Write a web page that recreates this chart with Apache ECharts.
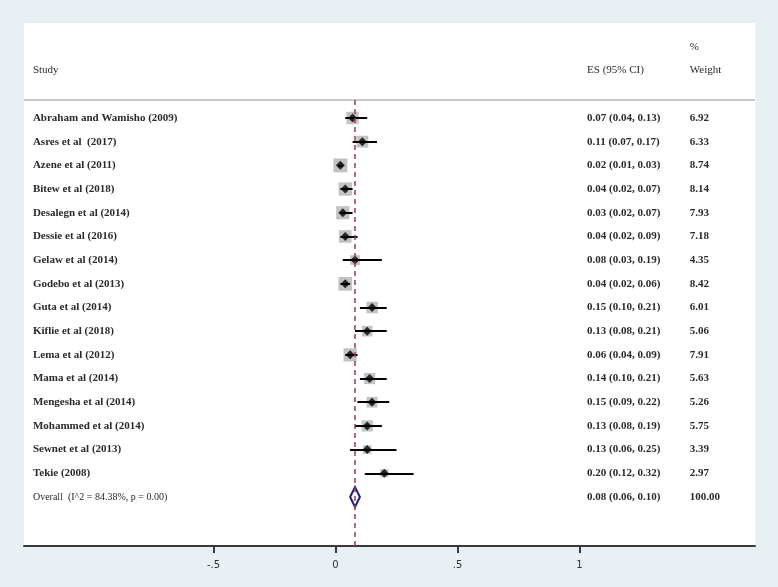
<!DOCTYPE html>
<html>
<head>
<meta charset="utf-8">
<script src="https://cdn.jsdelivr.net/npm/echarts@6/dist/echarts.min.js"></script>
<style>
html,body{margin:0;padding:0;background:#e8f0f3;}
#chart{width:778px;height:587px;}
</style>
</head>
<body>
<div id="chart"></div>
<script>
const studies = [
  "Abraham and Wamisho (2009)", "Asres et al  (2017)", "Azene et al (2011)", "Bitew et al (2018)",
  "Desalegn et al (2014)", "Dessie et al (2016)", "Gelaw et al (2014)", "Godebo et al (2013)",
  "Guta et al (2014)", "Kiflie et al (2018)", "Lema et al (2012)", "Mama et al (2014)",
  "Mengesha et al (2014)", "Mohammed et al (2014)", "Sewnet et al (2013)", "Tekie (2008)"
];
const es      = [0.07, 0.11, 0.02, 0.04, 0.03, 0.04, 0.08, 0.04, 0.15, 0.13, 0.06, 0.14, 0.15, 0.13, 0.13, 0.20];
const ciLow   = [0.04, 0.07, 0.01, 0.02, 0.02, 0.02, 0.03, 0.02, 0.10, 0.08, 0.04, 0.10, 0.09, 0.08, 0.06, 0.12];
const ciHigh  = [0.13, 0.17, 0.03, 0.07, 0.07, 0.09, 0.19, 0.06, 0.21, 0.21, 0.09, 0.21, 0.22, 0.19, 0.25, 0.32];
const weights = [6.92, 6.33, 8.74, 8.14, 7.93, 7.18, 4.35, 8.42, 6.01, 5.06, 7.91, 5.63, 5.26, 5.75, 3.39, 2.97];
const overallLabel = ["Overall  (I^2 = 84.38%, p = 0.00)"];
const overallES = [0.08];
const overallLow = [0.06];
const overallHigh = [0.10];
const overallWeight = [100.00];
const tickValues = [-0.5, 0, 0.5, 1];
const tickLabels = ["-.5", "0", ".5", "1"];
const headers = ["Study", "ES (95% CI)", "Weight", "%"];

// layout constants (axis units)
const X_MIN = -1.2766, X_MAX = 1.7193;
const Y_MIN = -4.01, Y_MAX = 18.07;
const COL_STUDY = -1.240, COL_ES = 1.031, COL_W = 1.452;
const HEADER_ROW = -2.03, PCT_ROW = -3.01, HEADER_LINE = -0.76;

const nRows = studies.length;
const overallRow = nRows;

const esText = es.map((v, i) => v.toFixed(2) + " (" + ciLow[i].toFixed(2) + ", " + ciHigh[i].toFixed(2) + ")");
const wText = weights.map(w => w.toFixed(2));
const ovEsText = overallES[0].toFixed(2) + " (" + overallLow[0].toFixed(2) + ", " + overallHigh[0].toFixed(2) + ")";
const ovWText = overallWeight[0].toFixed(2);

function textSeries(items, font, color) {
  return {
    type: 'custom',
    silent: true,
    clip: false,
    z: 5,
    data: items.map(it => [it.x, it.y]),
    renderItem: function (params, api) {
      const p = api.coord([api.value(0), api.value(1)]);
      return {
        type: 'text',
        x: p[0], y: p[1],
        style: { text: items[params.dataIndex].t, fill: color, font: font, align: 'left', verticalAlign: 'middle' }
      };
    }
  };
}

const studyItems = studies.map((s, i) => ({ x: COL_STUDY, y: i, t: s }));
const esItems = esText.map((s, i) => ({ x: COL_ES, y: i, t: s })).concat([{ x: COL_ES, y: overallRow, t: ovEsText }]);
const wItems = wText.map((s, i) => ({ x: COL_W, y: i, t: s })).concat([{ x: COL_W, y: overallRow, t: ovWText }]);
const headerItems = [
  { x: COL_STUDY, y: HEADER_ROW, t: headers[0] },
  { x: COL_ES, y: HEADER_ROW, t: headers[1] },
  { x: COL_W, y: HEADER_ROW, t: headers[2] },
  { x: COL_W, y: PCT_ROW, t: headers[3] }
];
const overallItems = [{ x: COL_STUDY, y: overallRow, t: overallLabel[0] }];

const chart = echarts.init(document.getElementById('chart'));
chart.setOption({
  backgroundColor: '#e8f0f3',
  animation: false,
  grid: { left: 24, right: 23, top: 23, bottom: 41, show: true, backgroundColor: '#ffffff', borderWidth: 0 },
  xAxis: {
    type: 'value', min: X_MIN, max: X_MAX,
    splitLine: { show: false },
    axisLine: { show: true, onZero: false, lineStyle: { color: '#3a3a3a', width: 2 } },
    axisTick: { show: true, customValues: tickValues, length: 7, lineStyle: { color: '#3a3a3a', width: 2 } },
    axisLabel: {
      show: true, customValues: tickValues, margin: 14,
      color: '#333', fontFamily: 'DejaVu Sans', fontSize: 10,
      formatter: function (v) { const k = tickValues.findIndex(t => Math.abs(t - v) < 1e-9); return k >= 0 ? tickLabels[k] : ''; }
    }
  },
  yAxis: {
    type: 'value', min: Y_MIN, max: Y_MAX, inverse: true, show: false,
    splitLine: { show: false }
  },
  series: [
    {
      type: 'scatter', name: 'weight boxes', symbol: 'rect',
      data: es.map((v, i) => [v, i, weights[i]]),
      symbolSize: function (val) { return 4.7 * Math.sqrt(val[2]); },
      itemStyle: { color: '#b4b4b4' },
      z: 2,
      markLine: {
        silent: true, symbol: 'none', label: { show: false },
        data: [
          { yAxis: HEADER_LINE, lineStyle: { color: '#c8c8c8', width: 2, type: 'solid' } },
          [
            { coord: [overallES[0], HEADER_LINE], lineStyle: { color: '#9a3d50', width: 1.5, type: [5, 4] } },
            { coord: [overallES[0], Y_MAX] }
          ]
        ]
      }
    },
    {
      type: 'lines', coordinateSystem: 'cartesian2d', name: 'ci',
      data: es.map((v, i) => ({ coords: [[ciLow[i], i], [ciHigh[i], i]] })),
      lineStyle: { color: '#000', width: 2, opacity: 1 },
      z: 3
    },
    {
      type: 'scatter', name: 'es', symbol: 'diamond', symbolSize: [9, 9],
      data: es.map((v, i) => [v, i]),
      itemStyle: { color: '#000' },
      z: 4
    },
    {
      type: 'custom', name: 'overall', z: 4,
      data: [[overallLow[0], overallES[0], overallHigh[0], overallRow]],
      renderItem: function (params, api) {
        const l = api.coord([api.value(0), api.value(3)]);
        const c = api.coord([api.value(1), api.value(3)]);
        const r = api.coord([api.value(2), api.value(3)]);
        const h = 10;
        return {
          type: 'polygon',
          shape: { points: [[l[0], l[1]], [c[0], c[1] - h], [r[0], r[1]], [c[0], c[1] + h]] },
          style: { fill: '#ffffff', stroke: '#1e1e78', lineWidth: 2 }
        };
      }
    },
    textSeries(studyItems, 'bold 11px "Liberation Serif"', '#2a2a2a'),
    textSeries(esItems, 'bold 11px "Liberation Serif"', '#2a2a2a'),
    textSeries(wItems, 'bold 11px "Liberation Serif"', '#2a2a2a'),
    textSeries(headerItems, '11px "Liberation Serif"', '#2a2a2a'),
    textSeries(overallItems, '10px "Liberation Serif"', '#2a2a2a')
  ]
});
</script>
</body>
</html>
